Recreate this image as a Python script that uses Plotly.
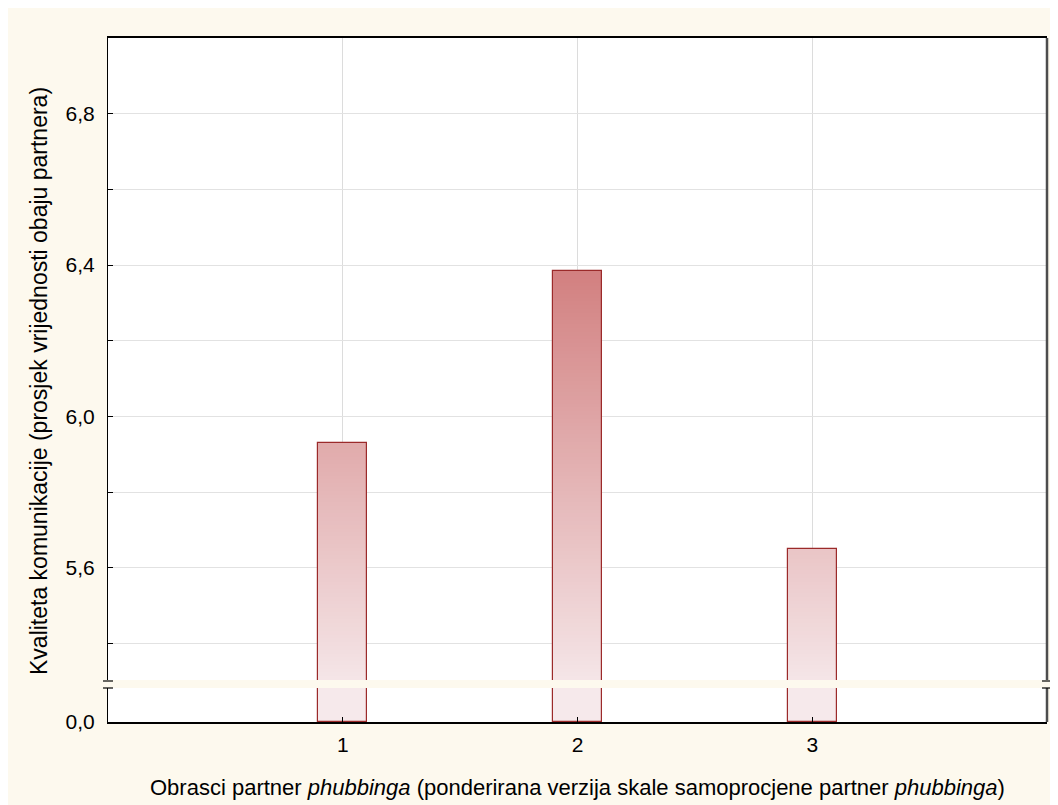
import plotly.graph_objects as go
import numpy as np

categories = [1, 2, 3]
values = [5.93, 6.385, 5.65]
y_tick_vals = [5.4, 5.6, 5.8, 6.0, 6.2, 6.4, 6.6, 6.8]
y_tick_text = ["", "5,6", "", "6,0", "", "6,4", "", "6,8"]
x_tick_text = ["1", "2", "3"]
x_title = "Obrasci partner <i>phubbinga</i> (ponderirana verzija skale samoprocjene partner <i>phubbinga</i>)"
y_title = "Kvaliteta komunikacije (prosjek vrijednosti obaju partnera)"

CREAM = "#fdf9ee"
FONT = "Liberation Sans, Arial, sans-serif"
TOP_LO, TOP_HI = 5.304, 7.0
BOT_LO, BOT_HI = 0.0, 0.1


def shade(v):
    # colour by absolute value: light pink at bottom, deeper red at top
    t = (v - 5.3) / (6.39 - 5.3)
    c0 = np.array([245, 230, 232])
    c1 = np.array([210, 128, 128])
    c = c0 + (c1 - c0) * t
    return "rgb(%d,%d,%d)" % tuple(np.clip(c, 0, 255).round())


step = 0.01
seg_x, seg_base, seg_h, seg_col = [], [], [], []
for cat, val in zip(categories, values):
    lo = TOP_LO - 0.01
    while lo < val:
        hi = min(lo + step, val)
        seg_x.append(cat)
        seg_base.append(lo)
        seg_h.append(hi - lo + 0.002)
        seg_col.append(shade(hi))
        lo += step

fig = go.Figure()
fig.add_trace(go.Bar(x=seg_x, y=seg_h, base=seg_base, width=0.21,
                     marker=dict(color=seg_col, line=dict(width=0)),
                     xaxis="x", yaxis="y", hoverinfo="skip", showlegend=False))
fig.add_trace(go.Bar(x=categories, y=values, width=0.21,
                     marker=dict(color="rgba(0,0,0,0)", line=dict(color="#9b2a2a", width=1.2)),
                     xaxis="x", yaxis="y", showlegend=False))
fig.add_trace(go.Bar(x=categories, y=values, width=0.21,
                     marker=dict(color="rgb(246,233,235)", line=dict(color="#9b2a2a", width=1.2)),
                     xaxis="x2", yaxis="y2", showlegend=False))

top_dom = [(722 - 680) / 684, 1.0]
bot_dom = [0.0, (722 - 688) / 684]

fig.update_layout(
    width=1050, height=797,
    margin=dict(l=100, r=11, t=30, b=83),
    paper_bgcolor=CREAM, plot_bgcolor="white",
    barmode="overlay", bargap=0,
    font=dict(family=FONT, size=21, color="black"),
    xaxis=dict(domain=[0, 1], anchor="y", range=[0, 4], tickvals=categories,
               showticklabels=False, ticks="", showgrid=True, gridcolor="#dcdcdc",
               gridwidth=1, side="top", showline=True, linecolor="black", linewidth=1.5,
               zeroline=False),
    xaxis2=dict(domain=[0, 1], anchor="y2", range=[0, 4], tickvals=categories,
                ticktext=x_tick_text, ticks="inside", ticklen=5, tickcolor="black",
                showgrid=True, gridcolor="#dcdcdc", showline=True, linecolor="black",
                linewidth=1.5, zeroline=False, tickfont=dict(size=21), ticklabelstandoff=3),
    yaxis=dict(domain=top_dom, anchor="x", range=[TOP_LO, TOP_HI], tickvals=y_tick_vals,
               ticktext=y_tick_text, ticks="inside", ticklen=5, tickcolor="black",
               showgrid=True, gridcolor="#e2e2e2", showline=True, linecolor="black",
               linewidth=1.2, zeroline=False, ticklabelstandoff=8),
    yaxis2=dict(domain=bot_dom, anchor="x2", range=[BOT_LO, BOT_HI], tickvals=[0.0],
                ticktext=["0,0"], ticks="", showgrid=False, showline=True,
                linecolor="black", linewidth=1.2, zeroline=False, ticklabelstandoff=8),
)

# helpers: screen pixel -> paper coords (plot area spans screen x 108..1047, y 38..722)
def px_x(px):
    return (px - 108) / 939

def px_y(py):
    return (722 - py) / 684

shapes = []
# right border (thicker, dark grey)
for y0, y1 in [(680, 38), (722, 688)]:
    shapes.append(dict(type="line", xref="paper", yref="paper", x0=1, x1=1,
                       y0=px_y(y0), y1=px_y(y1), line=dict(color="#4d4d4d", width=2.5)))
# axis break marks
for yb in [681, 688]:
    for xc in [108, 1047]:
        shapes.append(dict(type="line", xref="paper", yref="paper",
                           x0=px_x(xc - 5), x1=px_x(xc + 5), y0=px_y(yb), y1=px_y(yb),
                           line=dict(color="black", width=1.2)))
fig.update_layout(shapes=shapes)

fig.add_annotation(text=x_title, xref="paper", yref="paper", x=px_x(577.5), y=px_y(787),
                   showarrow=False, xanchor="center", yanchor="middle", font=dict(size=22))
fig.add_annotation(text=y_title, xref="paper", yref="paper", x=px_x(39), y=px_y(381),
                   showarrow=False, xanchor="center", yanchor="middle", textangle=-90,
                   font=dict(size=23))

fig.write_html("out.html")
